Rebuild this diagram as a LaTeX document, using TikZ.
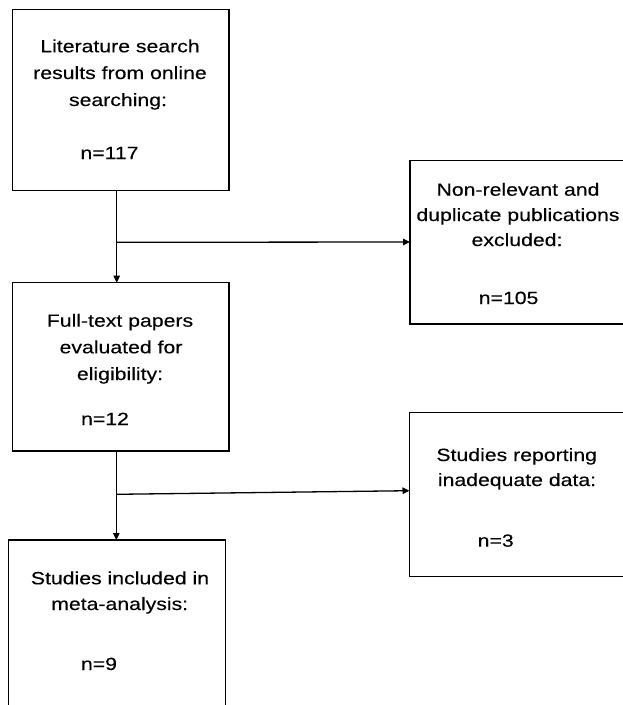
\documentclass[tikz,border=0pt]{standalone}
\usepackage{fontspec}
\newfontfamily\boxfont[FakeStretch=1.2,FakeBold=0.2]{Liberation Sans}
\usetikzlibrary{arrows.meta}
\begin{document}
\begin{tikzpicture}[x=1pt,y=-1pt,
  box/.style={draw=black, line width=1.4pt, rectangle, outer sep=0pt, inner sep=0pt, anchor=north west},
  txt/.style={font=\boxfont\fontsize{17.7}{26}\selectfont, anchor=base, inner sep=0pt, text=black},
  arr/.style={line width=1.3pt, -{Triangle[length=7pt,width=6.5pt]}}]
\useasboundingbox (0,0) rectangle (623,705);
\clip (0,0) rectangle (623,705);
\fill[white] (0,0) rectangle (623,705);
% boxes
\node[box, minimum width=216.7pt, minimum height=181.4pt] (b1) at (12.3,9.3) {};
\node[box, minimum width=240pt, minimum height=163.3pt] (b2) at (410,160.7) {};
\node[box, minimum width=216.7pt, minimum height=168.3pt] (b3) at (12.3,282.7) {};
\node[box, minimum width=240pt, minimum height=164pt] (b4) at (409.5,412.7) {};
\node[box, minimum width=217.4pt, minimum height=190pt] (b5) at (8.3,540) {};
% texts box 1
\node[txt] (t1a) at (120,52.3) {Literature search};
\node[txt] (t1b) at (120,79) {results from online};
\node[txt] (t1c) at (118,106) {searching:};
\node[txt] (t1d) at (109.5,159) {n=117};
% box 2
\node[txt] (t2a) at (518,195.7) {Non-relevant and};
\node[txt] (t2b) at (518,221) {duplicate publications};
\node[txt] (t2c) at (517,246) {excluded:};
\node[txt] (t2d) at (508.6,304) {n=105};
% box 3
\node[txt] (t3a) at (120,326.7) {Full-text papers};
\node[txt] (t3b) at (121,353.3) {evaluated for};
\node[txt] (t3c) at (120,380) {eligibility:};
\node[txt] (t3d) at (105,425) {n=12};
% box 4
\node[txt] (t4a) at (516.7,461) {Studies reporting};
\node[txt] (t4b) at (517,486) {inadequate data:};
\node[txt] (t4d) at (495.7,546.7) {n=3};
% box 5
\node[txt] (t5a) at (120,584.3) {Studies included in};
\node[txt] (t5b) at (119.7,610) {meta-analysis:};
\node[txt] (t5d) at (99,670) {n=9};
% connectors
\coordinate (j1) at (116.7,242.3);
\coordinate (e1) at (410,242);
\coordinate (j2) at (116.3,494.3);
\coordinate (e2) at (409.5,490.7);
\draw[arr] (j1 |- b1.south) -- (j1 |- b3.north);
\draw[arr] (j1) -- (e1);
\draw[arr] (j2 |- b3.south) -- (j2 |- b5.north);
\draw[arr] (j2) -- (e2);
\end{tikzpicture}
\end{document}
